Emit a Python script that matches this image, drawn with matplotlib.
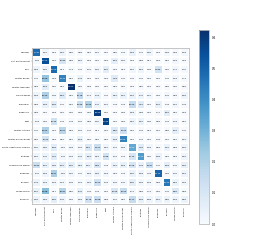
import numpy as np
import matplotlib
matplotlib.use('Agg')
import matplotlib.pyplot as plt

classes = ['Meadow', 'Soft winter wheat', 'Corn', 'Winter barley', 'Winter rapeseed',
           'Spring barley', 'Sunflower', 'Grapevine', 'Beet', 'Winter triticale',
           'Winter durum wheat', 'Fruits, vegetables, flowers', 'Potatoes',
           'Leguminous fodder', 'Soybeans', 'Orchard', 'Mixed cereal', 'Sorghum']

# row-normalised confusion matrix, in percent (read approx. from the picture)
cm = np.array([
    [47.87, 2.60, 0.13, 3.25, 0.80, 0.88, 0.50, 1.10, 0.07, 0.80, 0.49, 4.08, 0.40, 3.02, 0.08, 1.64, 0.93, 1.54],
    [1.35, 55.09, 0.07, 10.80, 0.82, 3.05, 0.09, 0.05, 0.09, 6.05, 1.85, 0.09, 0.88, 0.17, 0.09, 0.50, 2.09, 0.09],
    [3.24, 3.30, 48.66, 0.11, 0.73, 0.41, 1.27, 1.87, 6.20, 0.09, 0.13, 2.20, 3.26, 0.04, 11.80, 0.30, 1.77, 1.30],
    [0.45, 25.08, 0.08, 42.83, 0.50, 3.48, 0.06, 0.05, 0.08, 7.68, 0.47, 0.46, 0.70, 0.05, 0.05, 0.70, 2.08, 0.71],
    [0.89, 6.58, 0.30, 0.60, 62.50, 0.35, 0.33, 0.02, 0.27, 0.55, 0.30, 0.08, 0.87, 0.06, 0.25, 0.82, 0.35, 0.81],
    [3.33, 20.46, 1.04, 8.21, 0.60, 16.18, 1.74, 3.48, 0.45, 3.60, 4.10, 4.15, 3.40, 1.50, 0.04, 1.76, 0.84, 3.36],
    [0.88, 4.63, 6.64, 0.47, 0.60, 13.86, 19.65, 3.40, 1.57, 0.48, 0.48, 15.00, 7.56, 0.05, 5.05, 0.48, 2.07, 0.78],
    [0.83, 0.07, 0.08, 0.05, 0.02, 0.03, 0.32, 58.86, 0.00, 0.08, 0.03, 3.08, 0.98, 0.01, 0.77, 6.67, 0.50, 0.08],
    [1.43, 0.31, 12.26, 0.44, 0.43, 1.22, 0.88, 1.80, 57.80, 0.01, 0.04, 3.20, 4.20, 0.04, 0.89, 0.41, 1.28, 0.60],
    [0.47, 20.54, 0.06, 18.07, 0.54, 1.36, 0.47, 0.17, 0.06, 8.80, 13.03, 0.21, 0.76, 0.14, 0.07, 0.86, 6.01, 0.47],
    [0.85, 10.60, 0.18, 0.57, 0.50, 5.08, 0.30, 0.57, 0.51, 4.88, 42.85, 0.07, 0.46, 0.06, 0.79, 0.07, 0.60, 1.60],
    [2.87, 3.22, 6.98, 1.60, 1.83, 1.99, 9.20, 14.27, 3.00, 1.25, 2.83, 32.90, 7.22, 1.84, 0.84, 4.20, 0.89, 2.80],
    [3.01, 3.70, 7.25, 1.75, 1.54, 3.70, 6.00, 3.25, 11.88, 1.05, 0.43, 10.13, 36.40, 0.31, 4.03, 0.55, 0.59, 3.01],
    [13.82, 5.00, 4.04, 5.67, 5.80, 3.58, 4.00, 9.64, 0.48, 4.00, 4.89, 10.08, 4.48, 13.87, 0.40, 5.83, 1.47, 4.85],
    [1.70, 3.09, 20.67, 1.87, 1.87, 0.70, 2.24, 3.31, 2.08, 0.19, 0.43, 4.30, 2.88, 0.79, 49.72, 0.32, 1.30, 3.01],
    [3.43, 2.69, 2.18, 2.16, 1.04, 1.09, 2.26, 13.04, 1.09, 1.32, 1.46, 6.30, 2.04, 1.68, 0.83, 45.40, 3.66, 1.89],
    [5.00, 26.68, 0.17, 18.87, 0.80, 5.46, 0.79, 0.43, 0.06, 10.05, 15.50, 1.71, 0.88, 0.74, 0.32, 0.45, 8.81, 0.53],
    [3.31, 3.09, 6.32, 2.75, 0.31, 2.99, 12.75, 13.88, 0.88, 1.07, 0.65, 15.17, 5.03, 3.03, 4.20, 3.80, 3.09, 3.81],
])

n = len(classes)
frac = cm / 100.0

fig = plt.figure(figsize=(2.54, 2.52), dpi=100)
ax = fig.add_axes([0.126, 0.190, 0.618, 0.620])
cax = fig.add_axes([0.783, 0.111, 0.040, 0.770])

im = ax.pcolormesh(frac, cmap='Blues', vmin=0, vmax=frac.max(),
                   edgecolor='white', linewidth=0.3)
ax.set_xlim(0, n)
ax.set_ylim(n, 0)
ax.set_aspect('equal')

thresh = frac.max() / 2.0
for i in range(n):
    for j in range(n):
        ax.text(j + 0.5, i + 0.5, '%.2f' % cm[i, j], ha='center', va='center',
                fontsize=1.6, color='white' if frac[i, j] > thresh else 'black')

ax.set_xticks(np.arange(n) + 0.5)
ax.set_yticks(np.arange(n) + 0.5)
ax.set_xticklabels(classes, rotation=90, fontsize=1.5)
ax.set_yticklabels(classes, fontsize=1.5)
ax.tick_params(length=1, width=0.3, pad=0.8, color='#999999')
for s in ax.spines.values():
    s.set_color('#bbbbbb')
    s.set_linewidth(0.6)

cb = fig.colorbar(im, cax=cax)
cb.set_ticks([0.0, 0.1, 0.2, 0.3, 0.4, 0.5, 0.6])
cb.ax.tick_params(labelsize=2.0, length=1, width=0.3, pad=1, color='#999999')
cb.outline.set_edgecolor('#bbbbbb')
cb.outline.set_linewidth(0.6)

fig.savefig('out.png', dpi=100)
